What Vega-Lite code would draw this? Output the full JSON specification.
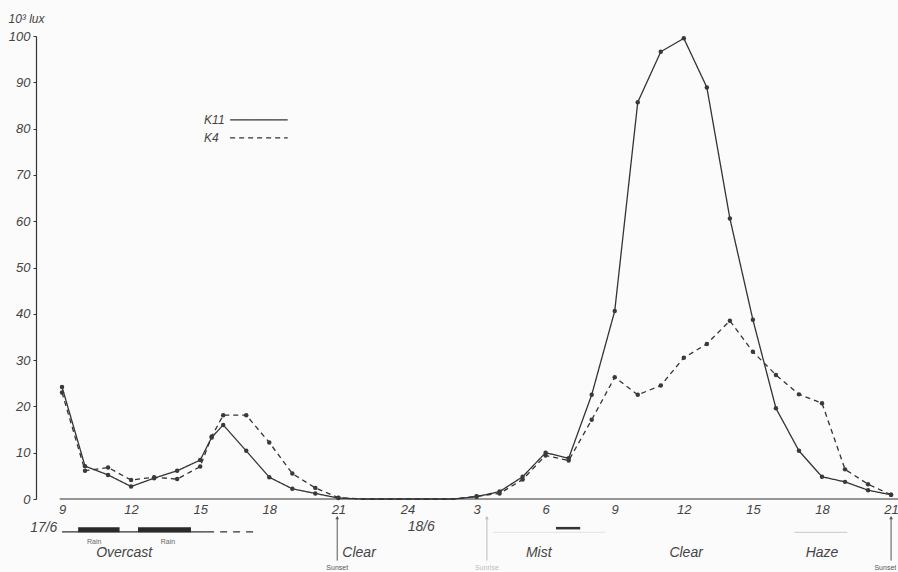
{
  "$schema": "https://vega.github.io/schema/vega-lite/v6.json",
  "width": 862,
  "height": 463,
  "autosize": "none",
  "padding": {"left": 36, "top": 36, "right": 0, "bottom": 73},
  "background": "#fbfbfb",
  "config": {
    "view": {"stroke": null},
    "font": "Liberation Sans",
    "axis": {"labelFont": "Liberation Sans", "titleFont": "Liberation Sans", "grid": false}
  },
  "data": {"values": [{}]},
  "datasets": {
    "lux": [
      {"hour": 9, "series": "K11", "lux": 24.2}, {"hour": 9, "series": "K4", "lux": 23.0},
      {"hour": 10, "series": "K11", "lux": 7.1}, {"hour": 10, "series": "K4", "lux": 6.1},
      {"hour": 11, "series": "K11", "lux": 5.2}, {"hour": 11, "series": "K4", "lux": 6.8},
      {"hour": 12, "series": "K11", "lux": 2.7}, {"hour": 12, "series": "K4", "lux": 4.1},
      {"hour": 13, "series": "K11", "lux": 4.5}, {"hour": 13, "series": "K4", "lux": 4.7},
      {"hour": 14, "series": "K11", "lux": 6.1}, {"hour": 14, "series": "K4", "lux": 4.3},
      {"hour": 15, "series": "K11", "lux": 8.4}, {"hour": 15, "series": "K4", "lux": 7.0},
      {"hour": 15.5, "series": "K11", "lux": 13.3}, {"hour": 15.5, "series": "K4", "lux": 13.5},
      {"hour": 16, "series": "K11", "lux": 16.0}, {"hour": 16, "series": "K4", "lux": 18.1},
      {"hour": 17, "series": "K11", "lux": 10.4}, {"hour": 17, "series": "K4", "lux": 18.1},
      {"hour": 18, "series": "K11", "lux": 4.7}, {"hour": 18, "series": "K4", "lux": 12.2},
      {"hour": 19, "series": "K11", "lux": 2.2}, {"hour": 19, "series": "K4", "lux": 5.5},
      {"hour": 20, "series": "K11", "lux": 1.2}, {"hour": 20, "series": "K4", "lux": 2.4},
      {"hour": 21, "series": "K11", "lux": 0.2}, {"hour": 21, "series": "K4", "lux": 0.3},
      {"hour": 22, "series": "K11", "lux": 0}, {"hour": 22, "series": "K4", "lux": 0},
      {"hour": 26, "series": "K11", "lux": 0}, {"hour": 26, "series": "K4", "lux": 0},
      {"hour": 27, "series": "K11", "lux": 0.5}, {"hour": 27, "series": "K4", "lux": 0.6},
      {"hour": 28, "series": "K11", "lux": 1.6}, {"hour": 28, "series": "K4", "lux": 1.2},
      {"hour": 29, "series": "K11", "lux": 4.8}, {"hour": 29, "series": "K4", "lux": 4.2},
      {"hour": 30, "series": "K11", "lux": 10.0}, {"hour": 30, "series": "K4", "lux": 9.4},
      {"hour": 31, "series": "K11", "lux": 8.8}, {"hour": 31, "series": "K4", "lux": 8.3},
      {"hour": 32, "series": "K11", "lux": 22.5}, {"hour": 32, "series": "K4", "lux": 17.1},
      {"hour": 33, "series": "K11", "lux": 40.6}, {"hour": 33, "series": "K4", "lux": 26.3},
      {"hour": 34, "series": "K11", "lux": 85.7}, {"hour": 34, "series": "K4", "lux": 22.5},
      {"hour": 35, "series": "K11", "lux": 96.6}, {"hour": 35, "series": "K4", "lux": 24.5},
      {"hour": 36, "series": "K11", "lux": 99.5}, {"hour": 36, "series": "K4", "lux": 30.5},
      {"hour": 37, "series": "K11", "lux": 88.9}, {"hour": 37, "series": "K4", "lux": 33.5},
      {"hour": 38, "series": "K11", "lux": 60.6}, {"hour": 38, "series": "K4", "lux": 38.5},
      {"hour": 39, "series": "K11", "lux": 38.7}, {"hour": 39, "series": "K4", "lux": 31.8},
      {"hour": 40, "series": "K11", "lux": 19.6}, {"hour": 40, "series": "K4", "lux": 26.8},
      {"hour": 41, "series": "K11", "lux": 10.4}, {"hour": 41, "series": "K4", "lux": 22.6},
      {"hour": 42, "series": "K11", "lux": 4.8}, {"hour": 42, "series": "K4", "lux": 20.7},
      {"hour": 43, "series": "K11", "lux": 3.7}, {"hour": 43, "series": "K4", "lux": 6.4},
      {"hour": 44, "series": "K11", "lux": 1.9}, {"hour": 44, "series": "K4", "lux": 3.2},
      {"hour": 45, "series": "K11", "lux": 0.9}, {"hour": 45, "series": "K4", "lux": 0.9}
    ],
    "rain": [
      {"hour": 9.7, "end": 11.5},
      {"hour": 12.3, "end": 14.6}
    ],
    "labels": [
      {"hour": 11.7, "text": "Overcast"},
      {"hour": 21.9, "text": "Clear"},
      {"hour": 29.7, "text": "Mist"},
      {"hour": 36.1, "text": "Clear"},
      {"hour": 42.0, "text": "Haze"}
    ],
    "rainLabels": [
      {"hour": 10.4, "text": "Rain"},
      {"hour": 13.6, "text": "Rain"}
    ],
    "sun": [
      {"hour": 20.95, "at": 20.95, "text": "Sunset", "kind": "set"},
      {"hour": 27.45, "at": 27.45, "text": "Sunrise", "kind": "rise"},
      {"hour": 45.0, "at": 44.75, "text": "Sunset", "kind": "set"}
    ],
    "legend": [
      {"series": "K11", "lux": 81.9},
      {"series": "K4", "lux": 78.0}
    ]
  },
  "layer": [
    {
      "data": {"name": "lux"},
      "mark": {"type": "line", "color": "#333", "strokeWidth": 1.3},
      "encoding": {
        "x": {"field": "hour", "type": "quantitative", "scale": {"domain": [7.871, 45.3], "nice": false, "zero": false}, "axis": {
          "values": [9, 12, 15, 18, 21, 24, 27, 30, 33, 36, 39, 42, 45],
          "labelExpr": "datum.value > 24 ? datum.value - 24 : datum.value",
          "domain": false, "ticks": false, "grid": false, "title": "",
          "labelFontSize": 13, "labelFontStyle": "italic", "labelColor": "#444", "labelPadding": 4, "labelFlush": false
        }},
        "y": {"field": "lux", "type": "quantitative", "scale": {"domain": [0, 100], "nice": false, "zero": false}, "axis": {
          "values": [0, 10, 20, 30, 40, 50, 60, 70, 80, 90, 100],
          "domain": true, "domainColor": "#333", "domainWidth": 1.2,
          "ticks": true, "tickSize": 3, "tickColor": "#333", "grid": false,
          "labelFontSize": 13, "labelFontStyle": "italic", "labelColor": "#444", "labelPadding": 3, "labelFlush": false,
          "title": "10³ lux", "titleAngle": 0, "titleAlign": "left", "titleBaseline": "middle",
          "titleX": -28, "titleY": -18, "titleFontSize": 12, "titleFontStyle": "italic", "titleFontWeight": "normal", "titleColor": "#444"
        }},
        "detail": {"field": "series"},
        "strokeDash": {"field": "series", "type": "nominal", "scale": {"domain": ["K11", "K4"], "range": [[1, 0], [5, 4]]}, "legend": null}
      }
    },
    {
      "mark": {"type": "rule", "color": "#333", "strokeWidth": 1.2},
      "encoding": {
        "x": {"datum": 8.9},
        "x2": {"datum": 45.3},
        "y": {"datum": 0}
      }
    },
    {
      "data": {"name": "lux"},
      "transform": [{"filter": "datum.lux > 0"}],
      "mark": {"type": "point", "filled": true, "color": "#3a3a3a", "size": 20, "opacity": 1},
      "encoding": {
        "x": {"field": "hour", "type": "quantitative"},
        "y": {"field": "lux", "type": "quantitative"}
      }
    },
    {
      "data": {"name": "legend"},
      "mark": {"type": "text", "align": "left", "baseline": "middle", "fontSize": 12, "fontStyle": "italic", "color": "#444"},
      "encoding": {
        "x": {"datum": 15.17},
        "y": {"field": "lux", "type": "quantitative"},
        "text": {"field": "series"}
      }
    },
    {
      "data": {"name": "legend"},
      "mark": {"type": "rule", "color": "#333", "strokeWidth": 1.2},
      "encoding": {
        "x": {"datum": 16.3},
        "x2": {"datum": 18.8},
        "y": {"field": "lux", "type": "quantitative"},
        "strokeDash": {"field": "series", "type": "nominal", "legend": null}
      }
    },
    {
      "mark": {"type": "rule", "color": "#333", "strokeWidth": 1.2},
      "encoding": {
        "x": {"datum": 9},
        "x2": {"datum": 15.3},
        "y": {"datum": -7.1}
      }
    },
    {
      "mark": {"type": "rule", "color": "#333", "strokeWidth": 1.2, "strokeDash": [7, 6]},
      "encoding": {
        "x": {"datum": 15.3},
        "x2": {"datum": 17.3},
        "y": {"datum": -7.1}
      }
    },
    {
      "data": {"name": "rain"},
      "mark": {"type": "rect", "color": "#2a2a2a"},
      "encoding": {
        "x": {"field": "hour", "type": "quantitative"},
        "x2": {"field": "end"},
        "y": {"datum": -6.1},
        "y2": {"datum": -7.2}
      }
    },
    {
      "data": {"name": "rainLabels"},
      "mark": {"type": "text", "baseline": "middle", "fontSize": 7, "color": "#666"},
      "encoding": {
        "x": {"field": "hour", "type": "quantitative"},
        "y": {"datum": -9.2},
        "text": {"field": "text"}
      }
    },
    {
      "data": {"name": "labels"},
      "mark": {"type": "text", "baseline": "middle", "fontSize": 14, "fontStyle": "italic", "color": "#444"},
      "encoding": {
        "x": {"field": "hour", "type": "quantitative"},
        "y": {"datum": -11.6},
        "text": {"field": "text"}
      }
    },
    {
      "mark": {"type": "text", "align": "right", "baseline": "middle", "fontSize": 14, "fontStyle": "italic", "color": "#444", "text": "17/6"},
      "encoding": {
        "x": {"datum": 8.8},
        "y": {"datum": -6.3}
      }
    },
    {
      "mark": {"type": "text", "align": "center", "baseline": "middle", "fontSize": 14, "fontStyle": "italic", "color": "#444", "text": "18/6"},
      "encoding": {
        "x": {"datum": 24.6},
        "y": {"datum": -6.1}
      }
    },
    {
      "data": {"name": "sun"},
      "mark": {"type": "rule", "strokeWidth": 1},
      "encoding": {
        "x": {"field": "hour", "type": "quantitative"},
        "y": {"datum": -4.0},
        "y2": {"datum": -13.3},
        "color": {"field": "kind", "type": "nominal", "scale": {"domain": ["set", "rise"], "range": ["#555", "#bbb"]}, "legend": null}
      }
    },
    {
      "data": {"name": "sun"},
      "mark": {"type": "point", "shape": "triangle-up", "filled": true, "size": 14, "opacity": 1},
      "encoding": {
        "x": {"field": "hour", "type": "quantitative"},
        "y": {"datum": -4.0},
        "color": {"field": "kind", "type": "nominal", "legend": null}
      }
    },
    {
      "data": {"name": "sun"},
      "mark": {"type": "text", "baseline": "middle", "fontSize": 7},
      "encoding": {
        "x": {"field": "at", "type": "quantitative"},
        "y": {"datum": -14.9},
        "text": {"field": "text"},
        "color": {"field": "kind", "type": "nominal", "legend": null}
      }
    },
    {
      "mark": {"type": "rule", "color": "#333", "strokeWidth": 2.5},
      "encoding": {
        "x": {"datum": 30.45},
        "x2": {"datum": 31.5},
        "y": {"datum": -6.3}
      }
    },
    {
      "mark": {"type": "rule", "color": "#e2e2e2", "strokeWidth": 1},
      "encoding": {
        "x": {"datum": 27.7},
        "x2": {"datum": 32.6},
        "y": {"datum": -7.2}
      }
    },
    {
      "mark": {"type": "rule", "color": "#c8c8c8", "strokeWidth": 1},
      "encoding": {
        "x": {"datum": 40.8},
        "x2": {"datum": 43.1},
        "y": {"datum": -7.2}
      }
    }
  ]
}
